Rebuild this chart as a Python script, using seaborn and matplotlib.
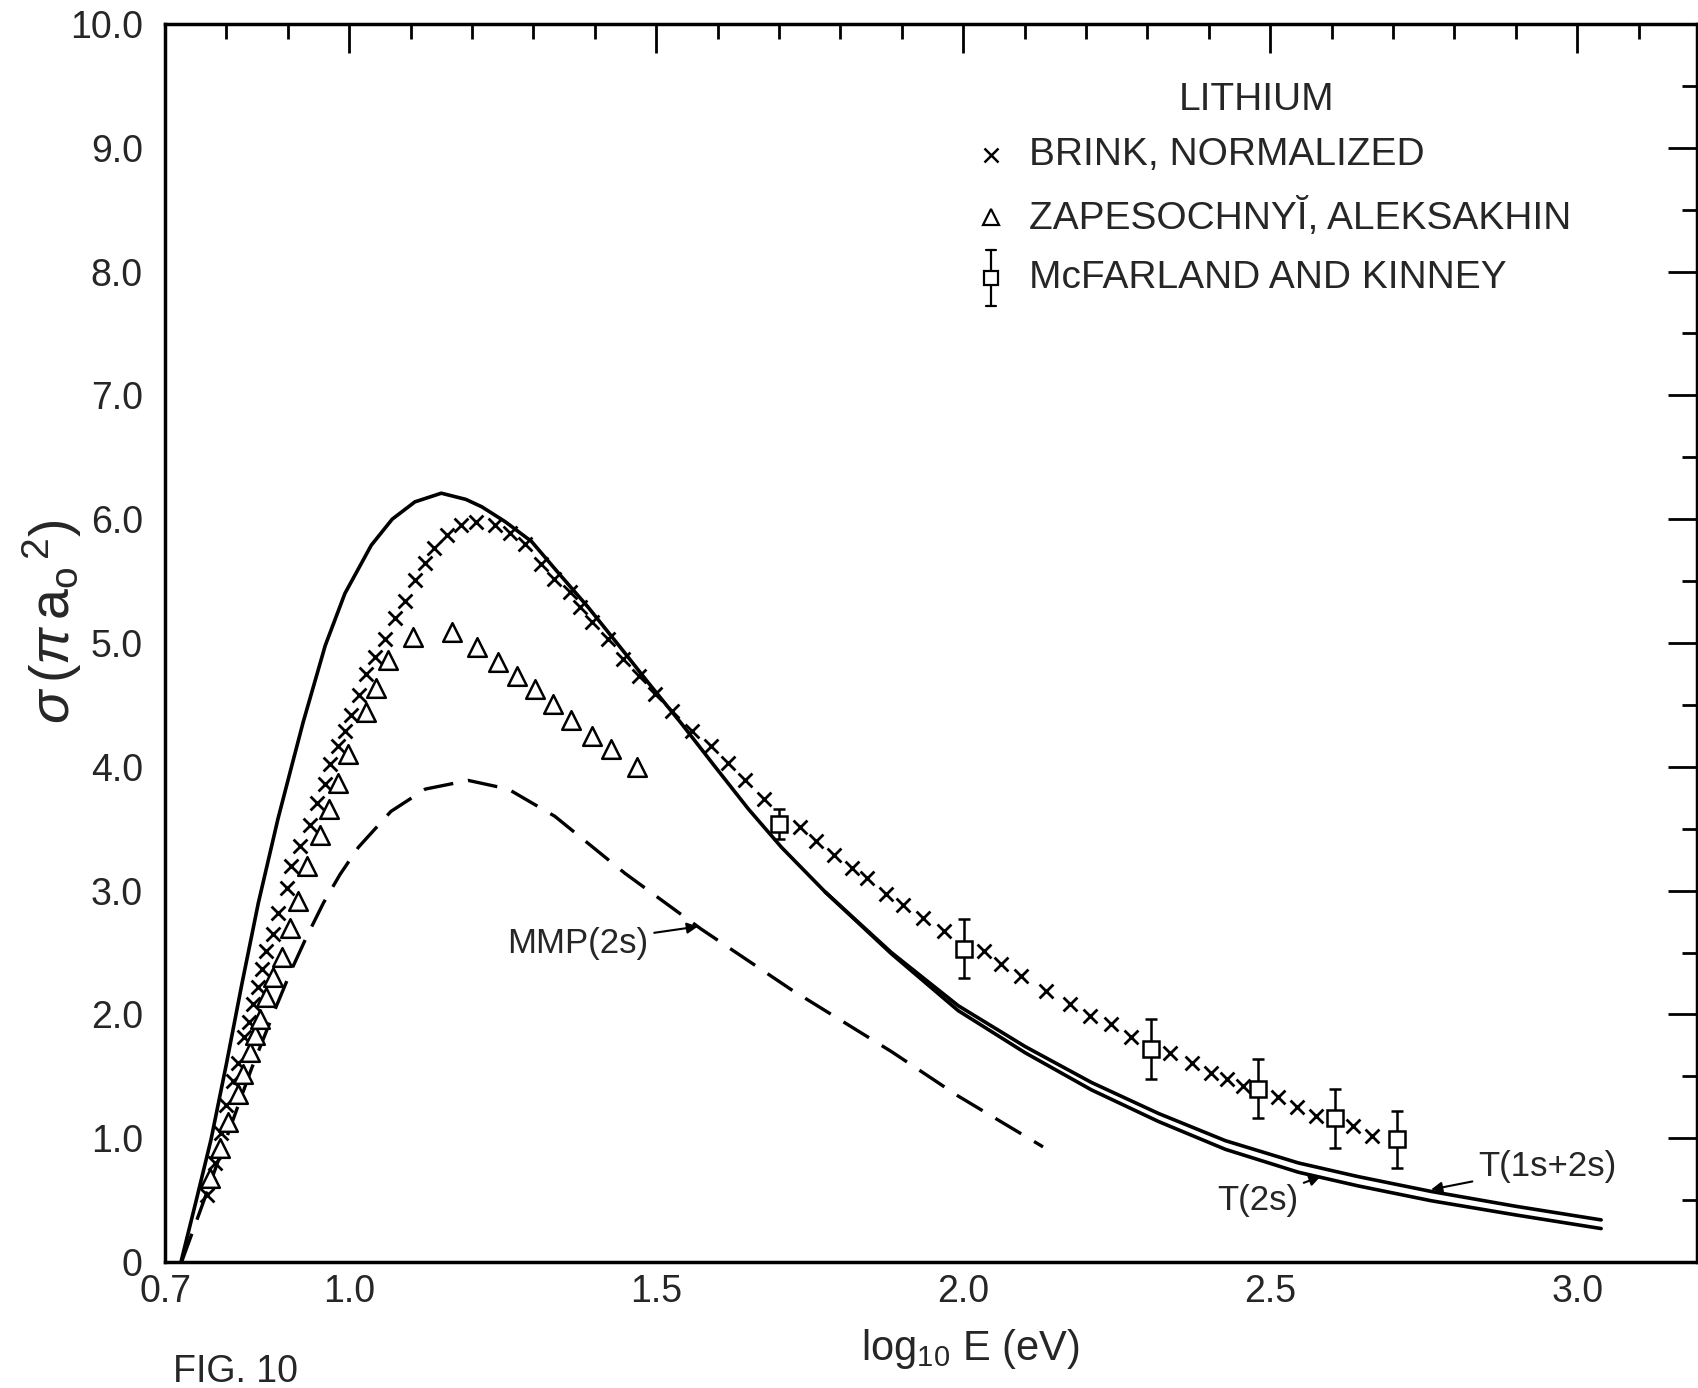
import matplotlib
matplotlib.use("Agg")
import matplotlib.pyplot as plt
import seaborn as sns
import numpy as np
from matplotlib.ticker import FixedLocator, MultipleLocator, FixedFormatter
from matplotlib.lines import Line2D

# ---------------- data ----------------
# Theory curve T(1s+2s)
t12_x = [0.726, 0.750, 0.775, 0.800, 0.825, 0.852, 0.884, 0.906, 0.925, 0.961,
         0.993, 1.036, 1.070, 1.107, 1.150, 1.190, 1.216, 1.254, 1.297, 1.340,
         1.389, 1.444, 1.487, 1.541, 1.596, 1.650, 1.704, 1.775, 1.883, 1.992,
         2.101, 2.209, 2.318, 2.427, 2.546, 2.643, 2.762, 2.900, 3.039]
t12_y = [0.00, 0.48, 0.99, 1.60, 2.24, 2.90, 3.58, 4.00, 4.36, 4.98,
         5.40, 5.79, 6.00, 6.14, 6.21, 6.16, 6.10, 5.98, 5.82, 5.57,
         5.29, 4.95, 4.68, 4.35, 4.00, 3.66, 3.35, 2.99, 2.50, 2.07,
         1.74, 1.45, 1.20, 0.98, 0.80, 0.69, 0.57, 0.45, 0.34]
# Theory curve T(2s) (splits from T(1s+2s) above ~1.85)
t2s_x = [1.775, 1.883, 1.992, 2.101, 2.209, 2.318, 2.427, 2.546, 2.643, 2.762, 2.900, 3.039]
t2s_y = [2.99, 2.49, 2.03, 1.69, 1.39, 1.135, 0.91, 0.725, 0.615, 0.495, 0.38, 0.27]
# MMP(2s) dashed curve
mmp_x = [0.727, 0.760, 0.800, 0.840, 0.880, 0.906, 0.930, 0.958, 0.985, 1.015,
         1.068, 1.124, 1.194, 1.259, 1.335, 1.449, 1.573, 1.720, 1.883, 1.992,
         2.130]
mmp_y = [0.00, 0.45, 1.00, 1.55, 2.05, 2.36, 2.62, 2.90, 3.13, 3.35,
         3.64, 3.82, 3.89, 3.82, 3.60, 3.14, 2.69, 2.20, 1.70, 1.34,
         0.93]
# Brink, normalized (crosses)
brink_x = [0.768, 0.781, 0.792, 0.800, 0.810, 0.819, 0.829, 0.836, 0.844, 0.851,
           0.858, 0.864, 0.876, 0.884, 0.898, 0.906, 0.920, 0.936, 0.948, 0.960,
           0.969, 0.982, 0.993, 1.003, 1.016, 1.028, 1.042, 1.059, 1.075, 1.091,
           1.107, 1.123, 1.138, 1.160, 1.182, 1.207, 1.237, 1.262, 1.287, 1.312,
           1.334, 1.359, 1.376, 1.396, 1.421, 1.446, 1.472, 1.498, 1.526, 1.559,
           1.590, 1.617, 1.645, 1.676, 1.735, 1.761, 1.790, 1.819, 1.844, 1.875,
           1.902, 1.934, 1.968, 2.034, 2.061, 2.094, 2.135, 2.174, 2.206, 2.240,
           2.274, 2.337, 2.372, 2.403, 2.429, 2.456, 2.512, 2.543, 2.574, 2.635,
           2.666]
brink_y = [0.54, 0.80, 1.04, 1.27, 1.46, 1.61, 1.82, 1.94, 2.08, 2.22,
           2.37, 2.51, 2.65, 2.82, 3.02, 3.20, 3.36, 3.53, 3.71, 3.86,
           4.02, 4.17, 4.29, 4.42, 4.58, 4.75, 4.89, 5.03, 5.20, 5.34,
           5.51, 5.65, 5.77, 5.87, 5.95, 5.98, 5.95, 5.89, 5.80, 5.64,
           5.52, 5.41, 5.29, 5.17, 5.03, 4.87, 4.73, 4.59, 4.45, 4.29,
           4.17, 4.03, 3.89, 3.74, 3.51, 3.40, 3.29, 3.18, 3.10, 2.97,
           2.88, 2.78, 2.67, 2.51, 2.41, 2.31, 2.19, 2.08, 1.99, 1.92,
           1.82, 1.69, 1.61, 1.53, 1.48, 1.42, 1.33, 1.25, 1.18, 1.10,
           1.02]
# Zapesochnyi, Aleksakhin (triangles)
zap_x = [0.773, 0.789, 0.803, 0.819, 0.827, 0.838, 0.846, 0.854, 0.865, 0.876,
         0.890, 0.903, 0.917, 0.932, 0.953, 0.967, 0.982, 0.998, 1.027, 1.043,
         1.064, 1.104, 1.167, 1.208, 1.242, 1.274, 1.302, 1.332, 1.362, 1.396,
         1.427, 1.469]
zap_y = [0.68, 0.92, 1.13, 1.36, 1.52, 1.70, 1.83, 1.96, 2.14, 2.30,
         2.46, 2.70, 2.92, 3.20, 3.45, 3.66, 3.87, 4.10, 4.44, 4.64,
         4.86, 5.05, 5.09, 4.97, 4.85, 4.73, 4.63, 4.51, 4.38, 4.25,
         4.14, 4.00]
# McFarland and Kinney (squares with error bars)
mcf_x = [1.700, 2.002, 2.306, 2.480, 2.605, 2.706]
mcf_y = [3.54, 2.53, 1.72, 1.40, 1.16, 0.99]
mcf_err = [0.12, 0.24, 0.245, 0.24, 0.24, 0.23]

x_ticks = [0.7, 1.0, 1.5, 2.0, 2.5, 3.0]
x_ticklabels = ["0.7", "1.0", "1.5", "2.0", "2.5", "3.0"]
y_ticks = [0, 1, 2, 3, 4, 5, 6, 7, 8, 9, 10]
y_ticklabels = ["0", "1.0", "2.0", "3.0", "4.0", "5.0", "6.0", "7.0", "8.0", "9.0", "10.0"]

legend_title = "LITHIUM"
legend_labels = ["BRINK, NORMALIZED", "ZAPESOCHNYĬ, ALEKSAKHIN", "McFARLAND AND KINNEY"]

# ---------------- style ----------------
sns.set_theme(style="white")
plt.rcParams["font.family"] = ["Liberation Sans", "DejaVu Sans"]
plt.rcParams["mathtext.fontset"] = "custom"
plt.rcParams["mathtext.rm"] = "Liberation Sans"
plt.rcParams["mathtext.it"] = "Liberation Sans:italic"
plt.rcParams["mathtext.sf"] = "Liberation Sans"

W, H = 1699, 1388
fig = plt.figure(figsize=(W / 100, H / 100), dpi=100)
fig.patch.set_facecolor("white")


def fx(px):
    return px / W


def fy(py):
    return 1 - py / H


L, R, T, B = 165, 1697, 24, 1262
ax = fig.add_axes([fx(L), fy(B), fx(R) - fx(L), fy(T) - fy(B)])
ax.set_facecolor("white")
ax.set_xlim(0.7, 0.7 + (R - L) / 614.0)
ax.set_ylim(0, 10)

# curves
sns.lineplot(x=t12_x, y=t12_y, ax=ax, color="black", linewidth=2.6,
             sort=False, estimator=None)
sns.lineplot(x=t2s_x, y=t2s_y, ax=ax, color="black", linewidth=2.6,
             sort=False, estimator=None)
sns.lineplot(x=mmp_x, y=mmp_y, ax=ax, color="black", linewidth=2.4,
             sort=False, estimator=None)
ax.lines[-1].set_dashes((9, 4.5))
for ln in ax.lines:
    ln.set_solid_joinstyle("round")
    ln.set_dash_joinstyle("round")

# markers
sns.scatterplot(x=brink_x, y=brink_y, ax=ax, marker="x", s=100,
                color="black", linewidth=2.0, zorder=4)
sns.scatterplot(x=zap_x, y=zap_y, ax=ax, marker="^", s=180,
                color="white", edgecolor="black", linewidth=1.8, zorder=4)
ax.errorbar(mcf_x, mcf_y, yerr=mcf_err, fmt="s", ms=11, mfc="white",
            mec="black", mew=1.8, ecolor="black", elinewidth=1.8,
            capsize=4.5, capthick=1.8, zorder=5)

# axes/ticks
for sp in ax.spines.values():
    sp.set_visible(True)
    sp.set_color("black")
    sp.set_linewidth(2.5)
ax.xaxis.set_major_locator(FixedLocator(x_ticks))
ax.xaxis.set_major_formatter(FixedFormatter(x_ticklabels))
ax.xaxis.set_minor_locator(MultipleLocator(0.1))
ax.yaxis.set_major_locator(FixedLocator(y_ticks))
ax.yaxis.set_major_formatter(FixedFormatter(y_ticklabels))
ax.yaxis.set_minor_locator(MultipleLocator(0.5))
ax.tick_params(which="major", direction="in", length=21, width=2,
               top=True, right=True, color="black")
ax.tick_params(which="minor", direction="in", length=11, width=2,
               top=True, right=True, color="black")
ax.tick_params(axis="x", which="major", pad=9, labelsize=27)
ax.tick_params(axis="y", which="major", pad=16, labelsize=27)
ax.set_xlabel("")
ax.set_ylabel("")

# annotations
arrow = dict(arrowstyle="-|>", lw=1.5, color="black", shrinkA=2, shrinkB=0,
             mutation_scale=16)
ax.annotate("MMP(2s)", xy=(1.568, 2.71), xytext=(1.487, 2.57),
            ha="right", va="center", fontsize=25, arrowprops=arrow)
ax.annotate("T(2s)", xy=(2.582, 0.69), xytext=(2.413, 0.50),
            ha="left", va="center", fontsize=25, arrowprops=arrow)
ax.annotate("T(1s+2s)", xy=(2.762, 0.585), xytext=(2.839, 0.77),
            ha="left", va="center", fontsize=25, arrowprops=arrow)

# legend block (figure pixel positions)
fig.text(fx(1257), fy(100), legend_title, ha="center", va="center", fontsize=28)
rows = [155, 217, 278]
mx = 991
fig.add_artist(Line2D([fx(mx)], [fy(rows[0])], marker="x", ms=10, mew=1.8,
                      color="black", linestyle="none"))
fig.add_artist(Line2D([fx(mx)], [fy(rows[1])], marker="^", ms=11, mew=1.6,
                      mfc="white", mec="black", linestyle="none"))
fig.add_artist(Line2D([fx(mx), fx(mx)], [fy(rows[2] - 28), fy(rows[2] + 28)],
                      color="black", lw=1.6))
fig.add_artist(Line2D([fx(mx - 5), fx(mx + 5)], [fy(rows[2] - 28)] * 2,
                      color="black", lw=1.6))
fig.add_artist(Line2D([fx(mx - 5), fx(mx + 5)], [fy(rows[2] + 28)] * 2,
                      color="black", lw=1.6))
fig.add_artist(Line2D([fx(mx)], [fy(rows[2])], marker="s", ms=10, mew=1.6,
                      mfc="white", mec="black", linestyle="none"))
for r, lab in zip(rows, legend_labels):
    fig.text(fx(1029), fy(r), lab, ha="left", va="center", fontsize=28)

# axis labels
fig.text(fx(970), fy(1349), r"log$_{10}$ E (eV)", ha="center", va="center",
         fontsize=30)
fig.text(fx(52), fy(622), r"$\sigma\,(\pi\,\mathrm{a_o}^{\,2})$", ha="center",
         va="center", rotation=90, fontsize=40)
fig.text(fx(173), fy(1372), "FIG. 10", ha="left", va="center", fontsize=27)

fig.savefig("out.png", dpi=100, facecolor="white")
